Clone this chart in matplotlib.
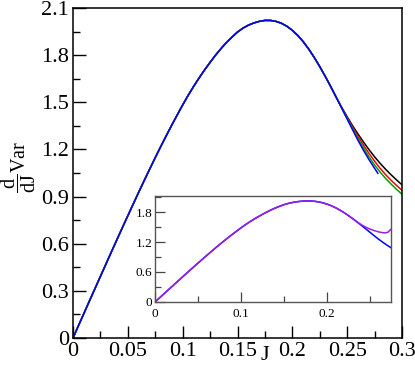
import matplotlib
matplotlib.use("Agg")
import matplotlib.pyplot as plt
from matplotlib.ticker import MultipleLocator

plt.rcParams['font.family'] = ['Liberation Serif', 'DejaVu Serif']
plt.rcParams['mathtext.fontset'] = 'custom'
plt.rcParams['mathtext.rm'] = 'Liberation Serif'
plt.rcParams['mathtext.it'] = 'Liberation Serif'

# ---- data ----
J_base = [0.000, 0.005, 0.010, 0.015, 0.020, 0.025, 0.030, 0.035, 0.040, 0.045,
          0.050, 0.055, 0.060, 0.065, 0.070, 0.075, 0.080, 0.085, 0.090, 0.095,
          0.100, 0.105, 0.110, 0.115, 0.120, 0.125, 0.130, 0.135, 0.140, 0.145,
          0.150, 0.155, 0.160, 0.165, 0.170, 0.175, 0.180, 0.185, 0.190, 0.195,
          0.200, 0.205, 0.210, 0.215, 0.220, 0.225, 0.230, 0.235, 0.240]
V_base = [0.000, 0.079, 0.157, 0.236, 0.314, 0.392, 0.470, 0.548, 0.625, 0.702,
          0.778, 0.854, 0.929, 1.003, 1.076, 1.148, 1.218, 1.287, 1.354, 1.419,
          1.483, 1.544, 1.601, 1.655, 1.706, 1.754, 1.800, 1.842, 1.881, 1.915,
          1.947, 1.972, 1.991, 2.005, 2.015, 2.021, 2.021, 2.015, 2.003, 1.984,
          1.958, 1.925, 1.885, 1.838, 1.785, 1.727, 1.665, 1.600, 1.532]

J_black = [0.245, 0.250, 0.255, 0.260, 0.265, 0.270, 0.275, 0.280, 0.285, 0.290, 0.295, 0.300]
V_black = [1.468, 1.408, 1.350, 1.297, 1.246, 1.198, 1.153, 1.112, 1.074, 1.039, 1.006, 0.975]
J_red = [0.245, 0.250, 0.255, 0.260, 0.265, 0.270, 0.275, 0.280, 0.285, 0.290, 0.295, 0.300]
V_red = [1.466, 1.402, 1.340, 1.282, 1.226, 1.174, 1.125, 1.080, 1.040, 1.004, 0.971, 0.940]
J_green = [0.245, 0.250, 0.255, 0.260, 0.265, 0.270, 0.275, 0.280, 0.285, 0.290, 0.295, 0.300]
V_green = [1.464, 1.397, 1.332, 1.268, 1.208, 1.152, 1.101, 1.056, 1.016, 0.980, 0.946, 0.915]
J_blue = [0.245, 0.250, 0.255, 0.260, 0.265, 0.270, 0.275, 0.278]
V_blue = [1.463, 1.393, 1.324, 1.256, 1.193, 1.134, 1.080, 1.048]

# inset
J_in_blue_tail = [0.245, 0.250, 0.255, 0.260, 0.265, 0.270, 0.274]
V_in_blue_tail = [1.463, 1.393, 1.324, 1.256, 1.193, 1.134, 1.090]
J_in_purple_tail = [0.240, 0.245, 0.250, 0.255, 0.260, 0.265, 0.268, 0.271, 0.274]
V_in_purple_tail = [1.545, 1.497, 1.458, 1.427, 1.402, 1.386, 1.382, 1.398, 1.450]

main_xticks = [0, 0.05, 0.1, 0.15, 0.2, 0.25, 0.3]
main_xlabels = ['0', '0.05', '0.1', '0.15', '0.2', '0.25', '0.3']
main_yticks = [0, 0.3, 0.6, 0.9, 1.2, 1.5, 1.8, 2.1]
main_ylabels = ['0', '0.3', '0.6', '0.9', '1.2', '1.5', '1.8', '2.1']
in_xticks = [0, 0.1, 0.2]
in_xlabels = ['0', '0.1', '0.2']
in_yticks = [0, 0.6, 1.2, 1.8]
in_ylabels = ['0', '0.6', '1.2', '1.8']

fig = plt.figure(figsize=(4.15, 3.65), dpi=100)
ax = fig.add_axes([73/415, 1-338/365, (402-73)/415, (338-8)/365])

lw = 1.1
ax.plot(J_base + J_black, V_base + V_black, color='black', lw=lw)
ax.plot(J_base + J_red, V_base + V_red, color='#ff0000', lw=lw)
ax.plot(J_base + J_green, V_base + V_green, color='#00a000', lw=lw)
ax.plot(J_base + J_blue, V_base + V_blue, color='#0000ff', lw=lw)

ax.set_xlim(0, 0.3)
ax.set_ylim(0, 2.1)
ax.set_xticks(main_xticks)
ax.set_xticklabels(main_xlabels)
ax.set_yticks(main_yticks)
ax.set_yticklabels(main_ylabels)
ax.xaxis.set_minor_locator(MultipleLocator(0.025))
ax.yaxis.set_minor_locator(MultipleLocator(0.15))
ax.tick_params(which='both', direction='in', top=False, right=False, labelsize=16, pad=3)
ax.tick_params(which='major', length=9, width=1)
ax.tick_params(which='minor', length=5, width=1)
for s in ax.spines.values():
    s.set_linewidth(1.1)

ax.set_xlabel('J', fontsize=16)
ax.xaxis.set_label_coords(0.584, -0.067)
ax.xaxis.label.set_va('baseline')
ax.set_ylabel(r'$\dfrac{\mathrm{d}}{\mathrm{dJ}}\mathrm{Var}$', fontsize=14.5)
ax.yaxis.set_label_coords(-0.106, 0.52)

# inset
axi = fig.add_axes([155/415, 1-302/365, (391-155)/415, (302-196)/365])
axi.plot(J_base + J_in_blue_tail, V_base + V_in_blue_tail, color='#0000ff', lw=lw)
axi.plot(J_base[:-1] + J_in_purple_tail, V_base[:-1] + V_in_purple_tail, color='#9a1ee6', lw=lw)
axi.set_xlim(0, 0.2744)
axi.set_ylim(0, 2.12)
axi.set_xticks(in_xticks)
axi.set_xticklabels(in_xlabels)
axi.set_yticks(in_yticks)
axi.set_yticklabels(in_ylabels)
axi.xaxis.set_minor_locator(MultipleLocator(0.05))
axi.yaxis.set_minor_locator(MultipleLocator(0.3))
axi.tick_params(which='both', direction='in', top=False, right=False, labelsize=9.5,
                color='#444444', pad=2)
axi.tick_params(axis='x', pad=4)
axi.tick_params(which='major', length=7, width=0.9)
axi.tick_params(which='minor', length=4, width=0.9)
for s in axi.spines.values():
    s.set_color('#555555')
    s.set_linewidth(1.0)

fig.savefig('out.png', dpi=100)
